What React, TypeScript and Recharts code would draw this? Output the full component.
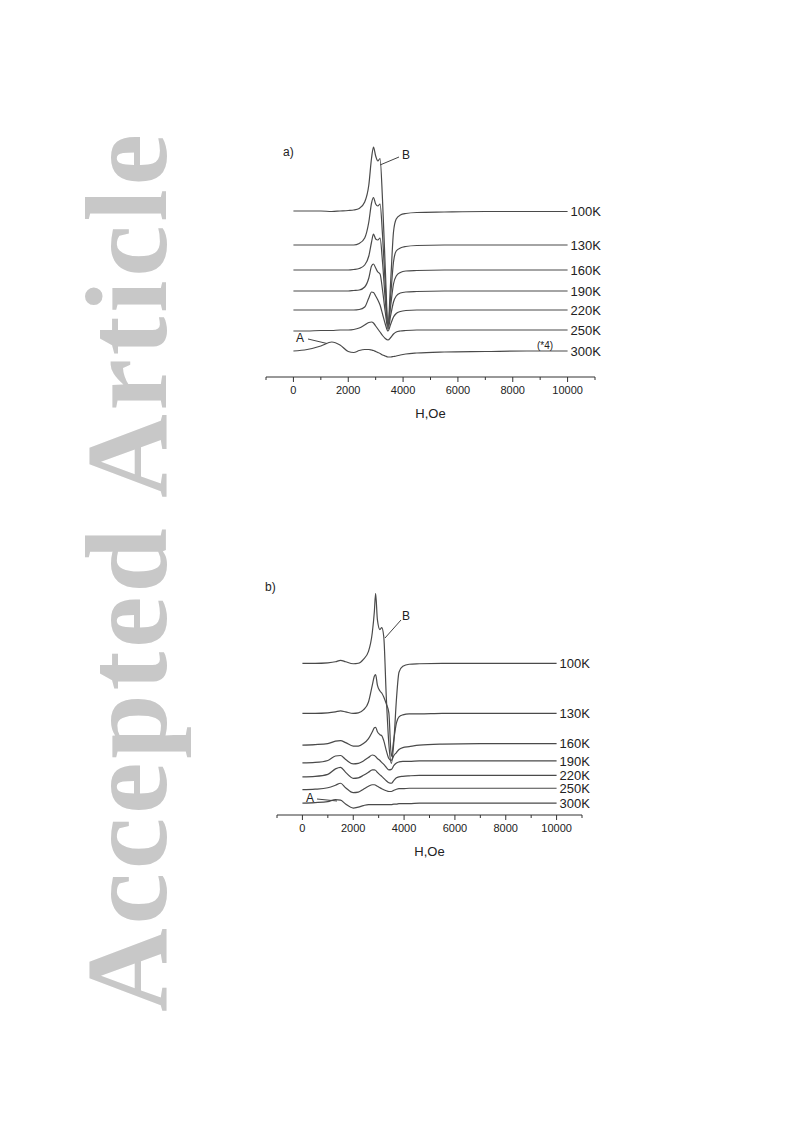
import { LineChart, Line, XAxis, YAxis } from 'recharts';

// field values (Oe) where the traces were read
const fieldA = [0, 500, 1000, 1400, 1700, 2000, 2200, 2400, 2600, 2750, 2850, 2920, 3000, 3080, 3160, 3250, 3350, 3450, 3550, 3650, 3750, 3900, 4100, 4500, 5500, 7000, 8500, 10000];
const fieldB = [0, 500, 1000, 1300, 1500, 1700, 2000, 2200, 2400, 2600, 2750, 2830, 2880, 2950, 3050, 3120, 3200, 3300, 3400, 3500, 3600, 3700, 3800, 3950, 4200, 4600, 5500, 7000, 8500, 10000];

// panel a, stacked signal (arb. units, offset included)
const a100K = [166, 166, 166, 165.5, 166, 166.5, 167, 168.5, 175, 192, 219, 230, 221, 216, 218.5, 177, 109, 53, 97, 145, 158, 162, 163.5, 164.5, 165, 165.5, 165.5, 165.5];
const a130K = [132, 132, 132, 132, 132, 132, 132, 133.5, 139, 155, 174, 179.5, 173, 171, 173, 142, 92, 51, 82, 115, 126, 129, 130.5, 131.5, 132, 132, 132, 132];
const a160K = [107, 107, 107, 107, 107, 107, 107.5, 108.5, 112, 121, 135, 143, 138, 137, 139, 115, 77, 50, 72, 93, 101, 104.5, 106, 106.5, 107, 107, 107, 107];
const a190K = [86, 86, 86, 86, 86, 86, 86.5, 87, 90, 99, 111, 113, 109, 105, 103, 87, 65, 48, 62, 75, 81, 84, 85, 85.5, 86, 86, 86, 86];
const a220K = [67, 67, 67, 67, 67, 67, 67, 67.5, 70, 79, 85, 84.5, 81, 77, 72, 63, 53, 46, 53, 60, 63.5, 65.5, 66.5, 67, 67, 67, 67, 67];
const a250K = [46, 46, 46.5, 46.5, 47, 47, 47.5, 49, 52, 54.5, 55, 54, 51, 48, 45, 41.5, 38.5, 37, 39.5, 43, 45, 46, 46.5, 47, 47, 47, 47, 47];
const a300K = [26, 27.5, 31, 35, 32, 25.5, 24.5, 26.5, 27.5, 27.5, 27, 26.5, 25.5, 24.5, 23.5, 22, 21, 20, 20, 20.5, 21, 22, 23, 24, 25, 25.5, 26, 26];

// panel b
const b100K = [153, 153, 153.5, 154.5, 156, 154.5, 152.5, 153, 157, 165, 184, 205, 223.5, 197, 187, 189, 180, 119, 72, 52, 75, 117, 144, 150, 152, 152.5, 153, 153, 153, 153];
const b130K = [102.5, 102.5, 103, 104, 105, 104, 102.5, 103, 106, 114, 131, 140, 141.5, 131, 125, 123, 119, 112, 103, 59, 77, 93, 99, 101, 102, 102, 102.5, 102.5, 102.5, 102.5];
const b160K = [70.5, 71, 72, 74.5, 75, 73, 69.5, 69.5, 72, 77, 84, 88, 88.5, 84, 81, 80, 75, 65, 57, 55, 60, 63, 66, 68, 69, 70.5, 71.5, 72, 72, 72];
const b190K = [52.5, 53, 55, 59.5, 60, 56, 51.5, 52, 54.5, 58, 60.5, 60, 59, 57, 55, 53, 51, 48, 45.5, 46, 50, 52.5, 53.5, 54, 54, 54.5, 54.5, 54.5, 54.5, 54.5];
const b220K = [38.5, 39, 41, 46.5, 48, 43, 37, 37.5, 40, 43, 45.5, 45.5, 45, 43, 40.5, 39, 37, 34.5, 32.5, 32, 35, 37.5, 38.5, 39, 39.5, 40, 40, 40, 40, 40];
const b250K = [25.5, 26, 27.5, 30, 32, 27.5, 22.5, 23, 26, 29, 30.5, 30.5, 30, 29, 27.5, 26.5, 25.5, 24.5, 23.7, 23.7, 25, 26, 26.5, 26.5, 27, 27, 27, 27, 27, 27];
const b300K = [12, 12.5, 13.5, 15.5, 15, 11, 7, 8, 9.5, 10.5, 10.5, 10.5, 10.5, 10.5, 10.5, 10.5, 10.5, 10.5, 10.5, 10.5, 11, 11, 11.5, 11.5, 11.5, 12, 12, 12, 12, 12];

const temps = ['100K', '130K', '160K', '190K', '220K', '250K', '300K'];
const seriesA = [a100K, a130K, a160K, a190K, a220K, a250K, a300K];
const seriesB = [b100K, b130K, b160K, b190K, b220K, b250K, b300K];

const axisTicks = [-1000, 0, 1000, 2000, 3000, 4000, 5000, 6000, 7000, 8000, 9000, 10000, 11000];
const labelTicks = [0, 2000, 4000, 6000, 8000, 10000];

const FONT = '"Liberation Sans", Arial, Helvetica, sans-serif';
const INK = '#333';

function buildRows(field: number[], series: number[][]) {
  return field.map((h, i) => {
    const row: Record<string, number> = { h };
    temps.forEach((t, k) => {
      row[t] = series[k][i];
    });
    return row;
  });
}

function AxisTick(props: any) {
  const { x, y, payload } = props;
  const major = labelTicks.includes(payload.value);
  return (
    <g>
      <line x1={x} x2={x} y1={y} y2={y + (major ? 5 : 3)} stroke={INK} strokeWidth={1} />
      {major && (
        <text x={x} y={y + 13} dy="0.355em" textAnchor="middle" fontSize={11} fill="#222" fontFamily={FONT}>
          {payload.value}
        </text>
      )}
    </g>
  );
}

// curve name printed just after the last point
const endLabel = (name: string, n: number) => (p: any) => {
  if (p.index !== n - 1) return <g key={`${name}-${p.index}`} />;
  return (
    <text key={`${name}-end`} x={p.cx + 3} y={p.cy} dy="0.35em" fontSize={13} fill="#222" fontFamily={FONT}>
      {name}
    </text>
  );
};

interface PanelProps {
  field: number[];
  series: number[][];
  left: number;
  top: number;
  width: number;
  margin: { top: number; right: number; left: number; bottom: number };
}

function Panel({ field, series, left, top, width, margin }: PanelProps) {
  const rows = buildRows(field, series);
  return (
    <div style={{ position: 'absolute', left, top }}>
      <LineChart width={width} height={300} data={rows} margin={margin}>
        <XAxis
          dataKey="h"
          type="number"
          domain={[-1000, 11000]}
          ticks={axisTicks}
          interval={0}
          tickSize={0}
          tickMargin={0}
          tickLine={false}
          tick={<AxisTick />}
          axisLine={{ stroke: INK, strokeWidth: 1 }}
          height={45}
          label={{ value: 'H,Oe', position: 'insideBottom', offset: 4, fontSize: 13, fill: '#222', fontFamily: FONT }}
        />
        <YAxis hide domain={[0, 240]} />
        {temps.map((t) => (
          <Line
            key={t}
            type="monotone"
            dataKey={t}
            stroke="#4a4a4a"
            strokeWidth={1.2}
            dot={endLabel(t, field.length)}
            activeDot={false}
            isAnimationActive={false}
          />
        ))}
      </LineChart>
    </div>
  );
}

export default function App() {
  return (
    <div style={{ position: 'absolute', left: 0, top: 0, width: 793, height: 1121, background: '#fff', overflow: 'hidden' }}>
      <svg width={793} height={1121} style={{ position: 'absolute', left: 0, top: 0 }}>
        <text
          transform="translate(166,1012) rotate(-90)"
          fontFamily='"Liberation Serif", "Times New Roman", serif'
          fontWeight="bold"
          fontSize={116}
          fill="#c8c8c8"
          textLength={878}
          lengthAdjust="spacing"
        >
          Accepted Article
        </text>
      </svg>

      <Panel field={fieldA} series={seriesA} left={250} top={130} width={366} margin={{ top: 7, right: 21, left: 16, bottom: 8 }} />
      <Panel field={fieldB} series={seriesB} left={258} top={568} width={350} margin={{ top: 9, right: 26, left: 19, bottom: 8 }} />

      <svg width={793} height={1121} style={{ position: 'absolute', left: 0, top: 0, pointerEvents: 'none' }} fontFamily={FONT} fill="#222">
        {/* panel a annotations */}
        <text x={283} y={156} fontSize={12}>a)</text>
        <text x={402} y={158.5} fontSize={12}>B</text>
        <line x1={380} y1={165} x2={399} y2={157} stroke="#444" />
        <text x={296} y={342} fontSize={12}>A</text>
        <line x1={308} y1={339} x2={327} y2={343.5} stroke="#444" />
        <text x={537} y={348.5} fontSize={10}>(*4)</text>
        {/* panel b annotations */}
        <text x={265} y={591} fontSize={12}>b)</text>
        <text x={402} y={619.5} fontSize={12}>B</text>
        <line x1={385} y1={638} x2={401} y2={620} stroke="#444" />
        <text x={306} y={801.5} fontSize={12}>A</text>
        <line x1={317} y1={799} x2={337} y2={801} stroke="#444" />
      </svg>
    </div>
  );
}
